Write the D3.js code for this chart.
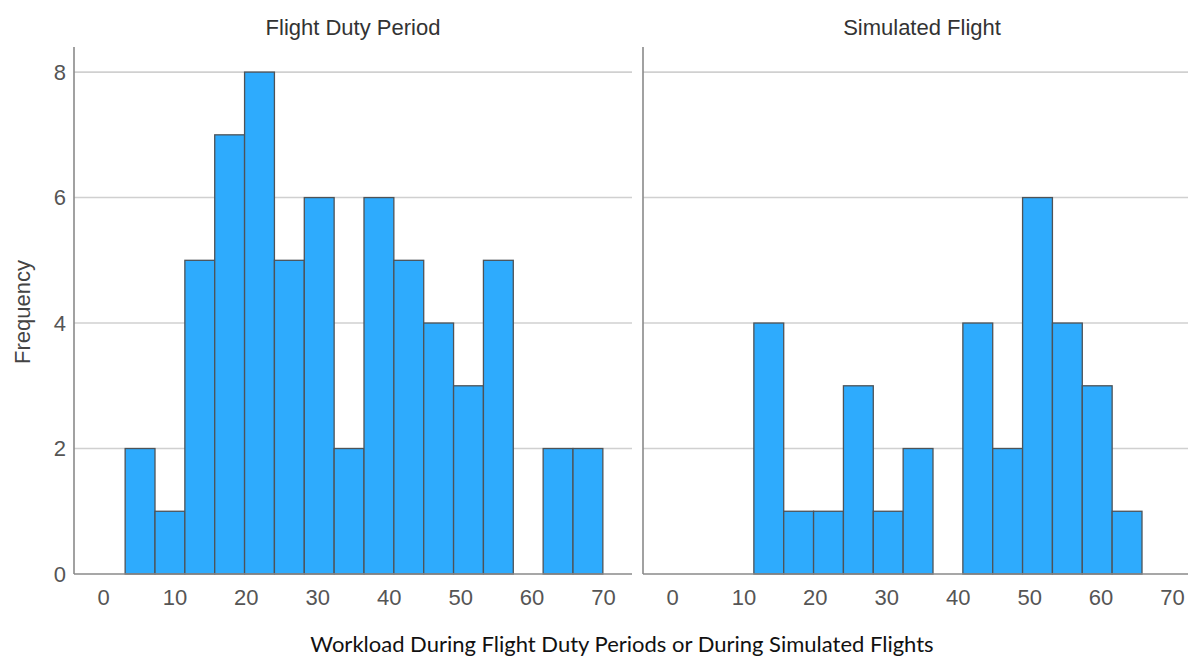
<!DOCTYPE html>
<html>
<head>
<meta charset="utf-8">
<script src="https://cdn.jsdelivr.net/npm/d3@7"></script>
<style>
  body { margin: 0; background: #fff; }
  svg { display: block; }
</style>
</head>
<body>
<svg id="chart" width="1188" height="659"></svg>
<script>
// bin left edges, each bin is binWidth wide
const binStarts = [3.1, 7.28, 11.46, 15.64, 19.82, 24.0, 28.18, 32.36, 36.54, 40.72, 44.9, 49.08, 53.26, 57.44, 61.62, 65.8];
const binWidth = 4.18;
const dutyCounts = [2, 1, 5, 7, 8, 5, 6, 2, 6, 5, 4, 3, 5, 0, 2, 2];
const simCounts = [0, 0, 4, 1, 1, 3, 1, 2, 0, 4, 2, 6, 4, 3, 1, 0];
const panelTitles = ["Flight Duty Period", "Simulated Flight"];
const xTicks = [0, 10, 20, 30, 40, 50, 60, 70];
const yTicks = [0, 2, 4, 6, 8];

const svg = d3.select("#chart");
const plotTop = 47, plotBottom = 574;
const panels = [
  { left: 74, right: 632, title: panelTitles[0], counts: dutyCounts },
  { left: 643, right: 1201, title: panelTitles[1], counts: simCounts }
];
const y = d3.scaleLinear().domain([0, 8.4]).range([plotBottom, plotTop]);
const axisFont = "'Liberation Sans', Arial, sans-serif";

panels.forEach(p => {
  const x = d3.scaleLinear().domain([-4.06, 74.06]).range([p.left, p.right]);
  const g = svg.append("g");

  // gridlines
  g.selectAll(".grid").data(yTicks.filter(d => d > 0)).enter().append("line")
    .attr("x1", p.left).attr("x2", p.right)
    .attr("y1", d => y(d)).attr("y2", d => y(d))
    .attr("stroke", "#d0d0d0").attr("stroke-width", 1.6);

  // bars
  const bins = binStarts.map((s, i) => ({ x0: s, x1: s + binWidth, n: p.counts[i] })).filter(d => d.n > 0);
  g.selectAll(".bar").data(bins).enter().append("rect")
    .attr("x", d => x(d.x0)).attr("y", d => y(d.n))
    .attr("width", d => x(d.x1) - x(d.x0)).attr("height", d => y(0) - y(d.n))
    .attr("fill", "#2eabfd").attr("stroke", "#4d5358").attr("stroke-width", 1.3);

  // axis lines
  g.append("line").attr("x1", p.left).attr("x2", p.left).attr("y1", plotTop).attr("y2", plotBottom)
    .attr("stroke", "#8a8a8a").attr("stroke-width", 1.6);
  g.append("line").attr("x1", p.left).attr("x2", p.right).attr("y1", plotBottom).attr("y2", plotBottom)
    .attr("stroke", "#8a8a8a").attr("stroke-width", 1.6);

  // x tick labels
  const xAxis = d3.axisBottom(x).tickValues(xTicks).tickSize(0).tickPadding(15);
  const xg = g.append("g").attr("transform", `translate(0,${plotBottom})`).call(xAxis);
  xg.select(".domain").remove();
  xg.selectAll("text").attr("fill", "#555").style("font-family", axisFont).style("font-size", "22px");

  // title
  g.append("text").attr("x", (p.left + p.right) / 2).attr("y", 35)
    .attr("text-anchor", "middle").attr("fill", "#333")
    .style("font-family", axisFont).style("font-size", "22px").text(p.title);
});

// y tick labels (left panel only)
const yAxis = d3.axisLeft(y).tickValues(yTicks).tickSize(0).tickPadding(8);
const yg = svg.append("g").attr("transform", `translate(74,0)`).call(yAxis);
yg.select(".domain").remove();
yg.selectAll("text").attr("fill", "#555").style("font-family", axisFont).style("font-size", "22px");

svg.append("text").attr("transform", "translate(30,312) rotate(-90)")
  .attr("text-anchor", "middle").attr("fill", "#444")
  .style("font-family", axisFont).style("font-size", "22px").text("Frequency");

svg.append("text").attr("x", 622).attr("y", 652)
  .attr("text-anchor", "middle").attr("fill", "#111")
  .style("font-family", "Lato, 'Open Sans', sans-serif").style("font-size", "22px")
  .text("Workload During Flight Duty Periods or During Simulated Flights");
</script>
</body>
</html>
